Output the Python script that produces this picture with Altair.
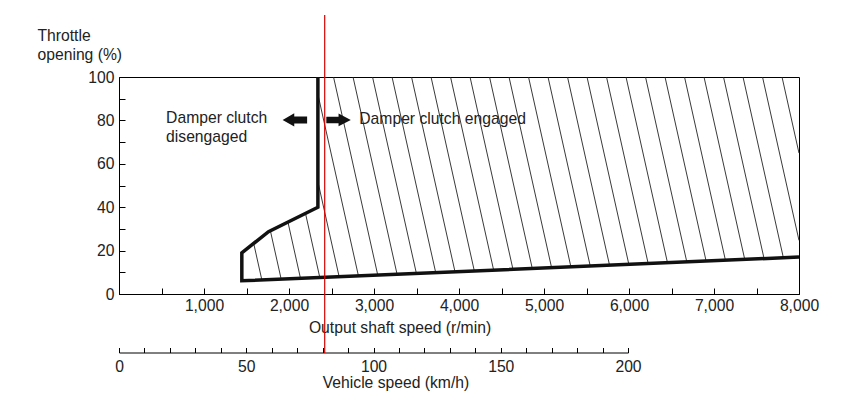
import altair as alt
import pandas as pd
import numpy as np

# ---------------- data ----------------
# left edge of the "engaged" region (rpm, throttle %), top to bottom
edge_rpm = [2340, 2340, 1759, 1445, 1445]
edge_thr = [100, 40, 28.7, 19, 6.1]
# lower limit line (rpm, throttle %)
low_rpm = [1445, 8000]
low_thr = [6.1, 17.0]

# red marker line (rpm) and its vertical extent (throttle % units)
red_rpm = [2420]
red_span = [128.6, -27.2]

# annotation texts
txt_label = ["Damper clutch", "disengaged", "Damper clutch engaged"]
txt_rpm = [554, 554, 2827]
txt_thr = [81.1, 72.4, 80.6]

# arrows
arrow_dir = ["left", "right"]
arrow_rpm = [2069, 2583]
arrow_thr = [80.2, 80.2]

# axis ticks
rpm_ticks = list(range(0, 8001, 500))
thr_ticks = list(range(0, 101, 10))
kmh_ticks = list(range(0, 201, 10))

# hatch pattern parameters (rpm at 100 %, spacing, rpm shift per % downward)
HATCH_START = 2524
HATCH_STEP = 229.4
HATCH_SLOPE = 5.70

FONT = "Liberation Sans"
FS = 15.7
TXT = "#222222"

# ---------------- hatch segments clipped to the region ----------------
def left_edge(p):
    return np.interp(p, edge_thr[::-1], edge_rpm[::-1])

def lower(r):
    return np.interp(r, low_rpm, low_thr)

pp = np.linspace(0, 100, 20001)
rows = []
for k in range(-8, 32):
    T = HATCH_START + HATCH_STEP * k
    r = T + HATCH_SLOPE * (100 - pp)
    inside = (r <= 8000) & (r >= left_edge(pp)) & (pp >= lower(r))
    if inside.sum() > 1:
        p_hi = pp[inside].max()
        p_lo = pp[inside].min()
        rows.append({"x": T + HATCH_SLOPE * (100 - p_hi), "y": p_hi,
                     "x2": T + HATCH_SLOPE * (100 - p_lo), "y2": p_lo})
hatch_df = pd.DataFrame(rows)

bnd_rpm = edge_rpm + [low_rpm[1]]
bnd_thr = edge_thr + [low_thr[1]]
bnd_df = pd.DataFrame({"x": bnd_rpm, "y": bnd_thr, "o": list(range(len(bnd_rpm)))})

red_df = pd.DataFrame({"x": red_rpm, "y": [red_span[0]], "y2": [red_span[1]]})
txt_df = pd.DataFrame({"x": txt_rpm, "y": txt_thr, "t": txt_label})
arr_df = pd.DataFrame({"x": arrow_rpm, "y": arrow_thr, "d": arrow_dir})
kmh_df = pd.DataFrame({"v": [kmh_ticks[0], kmh_ticks[-1]]})

# ---------------- scales / axes ----------------
xs = alt.Scale(domain=[0, 8000], nice=False, zero=False)
ys = alt.Scale(domain=[0, 100], nice=False, zero=False)

x_axis = alt.Axis(
    values=rpm_ticks,
    labelExpr="datum.value > 0 && datum.value % 1000 == 0 ? format(datum.value, ',') : ''",
    tickSize={"expr": "-6"}, labelPadding=10, labelFlush=False, labelOverlap=False,
    grid=False, title="Output shaft speed (r/min)", titleX=280.5, titleY=38,
    titleBaseline="alphabetic", titleAlign="center",
)
y_axis = alt.Axis(
    values=thr_ticks,
    labelExpr="datum.value % 20 == 0 ? datum.label : ''",
    tickSize={"expr": "-6"}, labelPadding=11, labelFlush=False, labelOverlap=False,
    grid=False, title=["Throttle", "opening (%)"], titleAngle=0, titleAlign="left",
    titleBaseline="alphabetic", titleX=-82, titleY=-37, titleLineHeight=19,
)

X = alt.X("x:Q", scale=xs, axis=x_axis)
Y = alt.Y("y:Q", scale=ys, axis=y_axis)

hatch = alt.Chart(hatch_df).mark_rule(color="#222222", strokeWidth=0.9).encode(
    x=X, y=Y, x2="x2:Q", y2="y2:Q")

boundary = alt.Chart(bnd_df).mark_line(color="#111111", strokeWidth=3.5,
                                       strokeJoin="miter").encode(
    x=X, y=Y, order="o:Q")

red = alt.Chart(red_df).mark_rule(color="#d40000", strokeWidth=1.2).encode(
    x=X, y=Y, y2="y2:Q")

texts = alt.Chart(txt_df).mark_text(align="left", baseline="middle", fontSize=FS,
                                    font=FONT, color=TXT).encode(
    x=X, y=Y, text="t:N")

left_path = "M -1 0 L -0.05 -0.54 L -0.05 -0.28 L 1 -0.28 L 1 0.28 L -0.05 0.28 L -0.05 0.54 Z"
right_path = "M 1 0 L 0.0 -0.52 L 0.0 -0.27 L -1 -0.27 L -1 0.27 L 0.0 0.27 L 0.0 0.52 Z"
arrows = alt.Chart(arr_df).mark_point(filled=True, opacity=1, color="#111111",
                                      size=600, strokeWidth=0).encode(
    x=X, y=Y,
    shape=alt.Shape("d:N", scale=alt.Scale(domain=["left", "right"],
                                          range=[left_path, right_path]), legend=None))

main = alt.layer(hatch, boundary, red, texts, arrows)

kmh_axis = alt.Axis(
    orient="bottom", offset=58.5, values=kmh_ticks,
    labelExpr="datum.value % 50 == 0 ? datum.label : ''",
    tickSize={"expr": "-5"}, labelPadding=12, labelFlush=False, labelOverlap=False,
    grid=False, title="Vehicle speed (km/h)", titleX=276.5, titleY=35,
    titleBaseline="alphabetic", titleAlign="center",
)
kmh = alt.Chart(kmh_df).mark_point(opacity=0).encode(
    x=alt.X("v:Q", scale=alt.Scale(domain=[0, 200], range=[0, 509], nice=False, zero=False),
            axis=kmh_axis))

chart = alt.layer(main, kmh).resolve_scale(x="independent").properties(
    width=680, height=217,
    autosize=alt.AutoSizeParams(type="none"),
    padding={"left": 111, "top": 69, "right": 49, "bottom": 100},
).configure_view(stroke="black", strokeWidth=1).configure_axis(
    domainColor="black", tickColor="black", domainWidth=1, tickWidth=1,
    labelFont=FONT, labelFontSize=FS, labelColor=TXT,
    titleFont=FONT, titleFontSize=FS, titleColor=TXT, titleFontWeight="normal",
)

chart.save("out.html", embed_options={"renderer": "svg", "actions": False})
